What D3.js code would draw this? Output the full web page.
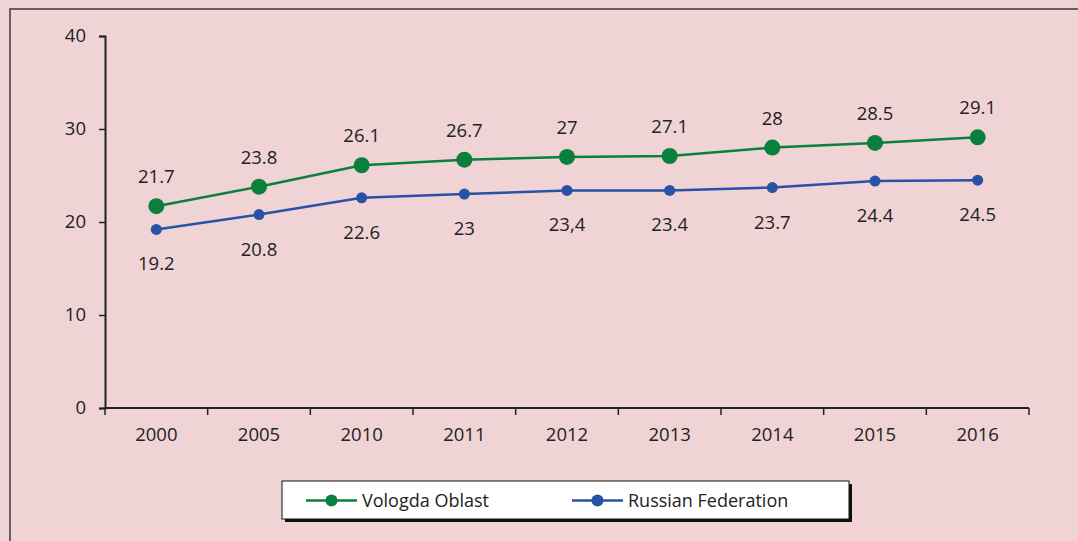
<!DOCTYPE html>
<html>
<head>
<meta charset="utf-8">
<script src="https://cdn.jsdelivr.net/npm/d3@7"></script>
<style>
  body { margin: 0; background: #efd3d5; }
  svg { display: block; font-family: "Open Sans", sans-serif; }
</style>
</head>
<body>
<svg id="chart" width="1078" height="541"></svg>
<script>
var years = ["2000", "2005", "2010", "2011", "2012", "2013", "2014", "2015", "2016"];
var vologda = [21.7, 23.8, 26.1, 26.7, 27, 27.1, 28, 28.5, 29.1];
var vologdaLabels = ["21.7", "23.8", "26.1", "26.7", "27", "27.1", "28", "28.5", "29.1"];
var russia = [19.2, 20.8, 22.6, 23, 23.4, 23.4, 23.7, 24.4, 24.5];
var russiaLabels = ["19.2", "20.8", "22.6", "23", "23,4", "23.4", "23.7", "24.4", "24.5"];
var yTicks = [0, 10, 20, 30, 40];

var svg = d3.select("#chart");
var plot = { left: 105, right: 1029, top: 36, bottom: 408 };
var fontSize = "18.5px";

// outer frame
svg.append("rect")
    .attr("x", 10).attr("y", 9)
    .attr("width", 1100).attr("height", 600)
    .attr("fill", "none")
    .attr("stroke", "#3a3a3a")
    .attr("stroke-width", 1.5);

var x = d3.scaleBand().domain(years).range([plot.left, plot.right]);
var y = d3.scaleLinear().domain([0, 40]).range([plot.bottom, plot.top]);

var yAxis = svg.append("g")
    .attr("transform", `translate(${plot.left},0)`)
    .call(d3.axisLeft(y).tickValues(yTicks).tickSize(6).tickPadding(13));
var xAxis = svg.append("g")
    .attr("transform", `translate(0,${plot.bottom})`)
    .call(d3.axisBottom(x).tickSize(0).tickPadding(20));

[yAxis, xAxis].forEach((g) => {
    g.select(".domain").attr("stroke", "#222").attr("stroke-width", 2);
    g.selectAll(".tick line").attr("stroke", "#222").attr("stroke-width", 1.5);
    g.selectAll("text").attr("fill", "#222").style("font-size", fontSize).style("font-family", "Open Sans, sans-serif");
});
xAxis.select(".domain").attr("d", `M${plot.left},0H${plot.right}`);

// x ticks at band boundaries
svg.append("g").selectAll("line")
    .data(years.concat(["end"]))
    .join("line")
    .attr("x1", (d, i) => plot.left + i * x.step())
    .attr("x2", (d, i) => plot.left + i * x.step())
    .attr("y1", plot.bottom)
    .attr("y2", plot.bottom + 7)
    .attr("stroke", "#222").attr("stroke-width", 1.5);

var cx = (d, i) => x(years[i]) + x.bandwidth() / 2;

var series = [
    { values: vologda, labels: vologdaLabels, color: "#0b7f3c", r: 8, dy: -23 },
    { values: russia, labels: russiaLabels, color: "#2752a6", r: 5.5, dy: 41 }
];

series.forEach((s) => {
    svg.append("path")
        .datum(s.values)
        .attr("fill", "none")
        .attr("stroke", s.color)
        .attr("stroke-width", 2.5)
        .attr("d", d3.line().x(cx).y((d) => y(d)));
    svg.append("g").selectAll("circle")
        .data(s.values)
        .join("circle")
        .attr("cx", cx)
        .attr("cy", (d) => y(d))
        .attr("r", s.r)
        .attr("fill", s.color);
    svg.append("g").selectAll("text")
        .data(s.values)
        .join("text")
        .attr("x", cx)
        .attr("y", (d) => y(d) + s.dy)
        .attr("text-anchor", "middle")
        .attr("fill", "#222")
        .style("font-size", fontSize)
        .text((d, i) => s.labels[i]);
});

// legend
var legend = svg.append("g");
legend.append("rect")
    .attr("x", 285).attr("y", 484).attr("width", 567).attr("height", 38)
    .attr("fill", "#111");
legend.append("rect")
    .attr("x", 282).attr("y", 481).attr("width", 567).attr("height", 38)
    .attr("fill", "#fff").attr("stroke", "#111").attr("stroke-width", 1);

var legendItems = [
    { name: "Vologda Oblast", color: "#0b7f3c", x: 306 },
    { name: "Russian Federation", color: "#2752a6", x: 572 }
];
legendItems.forEach((d) => {
    legend.append("line")
        .attr("x1", d.x).attr("x2", d.x + 51)
        .attr("y1", 500.5).attr("y2", 500.5)
        .attr("stroke", d.color).attr("stroke-width", 2.5);
    legend.append("circle")
        .attr("cx", d.x + 25.5).attr("cy", 500.5).attr("r", 6)
        .attr("fill", d.color);
    legend.append("text")
        .attr("x", d.x + 56).attr("y", 507)
        .attr("fill", "#222")
        .style("font-size", "18px")
        .text(d.name);
});
</script>
</body>
</html>
